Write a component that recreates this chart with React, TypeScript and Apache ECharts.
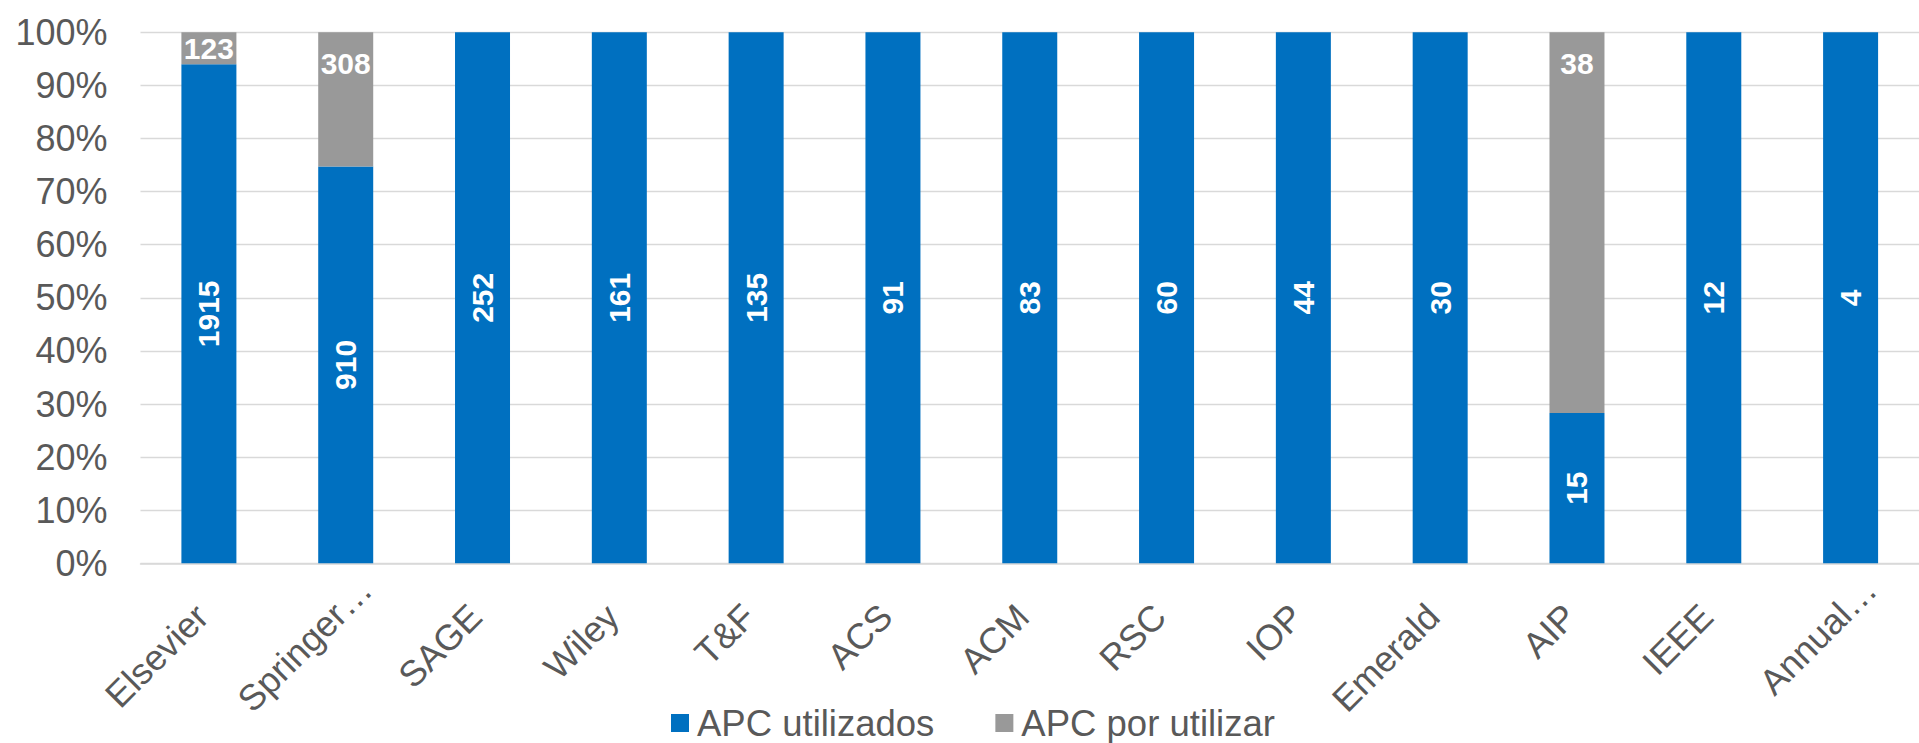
import React, { useEffect, useRef } from "react";
import * as echarts from "echarts";

const categories = ["Elsevier", "Springer…", "SAGE", "Wiley", "T&F", "ACS", "ACM", "RSC", "IOP", "Emerald", "AIP", "IEEE", "Annual…"];
const usedValues = [1915, 910, 252, 161, 135, 91, 83, 60, 44, 30, 15, 12, 4];
const unusedValues = [123, 308, 0, 0, 0, 0, 0, 0, 0, 0, 38, 0, 0];
const seriesNames = ["APC utilizados", "APC por utilizar"];
const yTicks = [0, 10, 20, 30, 40, 50, 60, 70, 80, 90, 100];

const FONT = "'Liberation Sans', Arial, Helvetica, sans-serif";
const BLUE = "#0070C0";
const GREY = "#999999";

export default function App() {
  const ref = useRef<HTMLDivElement>(null);

  useEffect(() => {
    document.body.style.margin = "0";
    document.body.style.overflow = "hidden";
    if (!ref.current) return;
    const chart = echarts.init(ref.current, null, { renderer: "svg" });
    const totals = usedValues.map((v, i) => v + unusedValues[i]);
    const usedPct = usedValues.map((v, i) => (v / totals[i]) * 100);
    const unusedPct = unusedValues.map((v, i) => (v / totals[i]) * 100);

    const unusedData = unusedPct.map((p) =>
      p < 10 ? { value: p, label: { position: "inside", distance: 0 } } : p
    );

    // truncated labels (ending with an ellipsis) sit further along their baseline, as in the original
    const axisData = categories.map((c) =>
      c.endsWith("…") ? { value: c, textStyle: { padding: [36, -28, 0, 0] } } : c
    );

    chart.setOption({
      animation: false,
      textStyle: { fontFamily: FONT },
      grid: { left: 140.5, right: -16, top: 32.3, bottom: 179.7, containLabel: false },
      legend: {
        data: seriesNames,
        left: 666,
        top: 699,
        icon: "rect",
        itemWidth: 18,
        itemHeight: 18,
        itemGap: 61,
        textStyle: {
          fontSize: 36.5,
          lineHeight: 38,
          color: "#595959",
          fontFamily: FONT,
          padding: [0, 0, 0, 3],
        },
      },
      xAxis: {
        type: "category",
        data: axisData,
        axisTick: { show: false },
        axisLine: { show: true, lineStyle: { color: "#D9D9D9", width: 1.5 } },
        axisLabel: {
          interval: 0,
          rotate: 45,
          margin: 40,
          padding: [0, 10, 0, 0],
          fontSize: 36,
          color: "#595959",
          fontFamily: FONT,
        },
      },
      yAxis: {
        type: "value",
        min: yTicks[0],
        max: yTicks[yTicks.length - 1],
        interval: 10,
        axisLine: { show: false },
        axisTick: { show: false },
        splitLine: { lineStyle: { color: "#D9D9D9", width: 1.3 } },
        axisLabel: {
          formatter: "{value}%",
          fontSize: 36,
          color: "#595959",
          margin: 33,
          fontFamily: FONT,
        },
      },
      series: [
        {
          name: seriesNames[0],
          type: "bar",
          stack: "total",
          barWidth: 55,
          data: usedPct,
          itemStyle: { color: BLUE },
          label: {
            show: true,
            position: "inside",
            rotate: 90,
            color: "#FFFFFF",
            fontWeight: "bold",
            fontSize: 30,
            fontFamily: FONT,
            formatter: (p: any) => String(usedValues[p.dataIndex]),
          },
        },
        {
          name: seriesNames[1],
          type: "bar",
          stack: "total",
          barWidth: 55,
          data: unusedData,
          itemStyle: { color: GREY },
          label: {
            show: true,
            position: "insideTop",
            distance: 16,
            color: "#FFFFFF",
            fontWeight: "bold",
            fontSize: 30,
            fontFamily: FONT,
            formatter: (p: any) => (unusedValues[p.dataIndex] > 0 ? String(unusedValues[p.dataIndex]) : ""),
          },
        },
      ],
    });

    return () => chart.dispose();
  }, []);

  return (
    <div
      ref={ref}
      style={{ position: "absolute", left: 0, top: 0, width: 1919, height: 743, overflow: "hidden" }}
    />
  );
}
